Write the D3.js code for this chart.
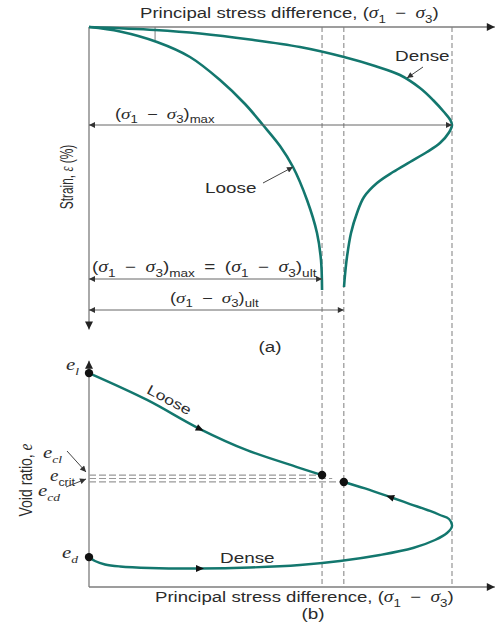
<!DOCTYPE html>
<html><head><meta charset="utf-8">
<script src="https://cdn.jsdelivr.net/npm/d3@7"></script>
<style>body{margin:0;background:#fff}svg{display:block}</style>
</head><body>
<script>
// (a) Strain vs principal stress difference, (b) void ratio vs principal stress difference
// Stress difference in % of the dense peak; strain in %.
const looseStressStrain = [[0,0],[8.54,0.18],[18.73,0.6],[27.82,1.2],[36.09,2.12],[42.98,3.08],[47.93,3.92],[52.62,4.76],[56.2,5.6],[60.06,6.92],[62.81,8.24],[63.91,9.32],[64.2,10.52]];
const denseStressStrain = [[0,0],[18.18,0.12],[30.58,0.26],[44.35,0.5],[58.13,0.8],[70.25,1.2],[78.79,1.56],[85.67,1.92],[91.18,2.44],[94.77,2.92],[97.8,3.4],[99.45,3.7],[100,3.92],[99.17,4.22],[96.69,4.64],[93.11,5.0],[88.43,5.4],[83.75,5.8],[79.34,6.24],[75.76,6.8],[73.83,7.44],[72.18,8.24],[71.07,9.2],[70.52,9.92],[70.25,10.4]];
const looseVoid = [[0,0.958],[16,0.888],[30.6,0.812],[43.5,0.757],[57.3,0.713],[64.2,0.692]];
const denseVoid = [[0,0.4783],[1.65,0.4678],[4.41,0.4587],[8.54,0.4535],[16.8,0.4496],[30.58,0.4483],[44.35,0.4509],[58.13,0.4574],[69.15,0.4678],[80.17,0.4835],[89.26,0.5017],[95.32,0.5226],[98.62,0.5409],[100,0.5591],[99.17,0.5774],[96.69,0.5878],[93.94,0.5983],[88.43,0.6165],[82.92,0.6348],[76.03,0.657],[70.25,0.6739]];
// characteristic values
const stressMaxDense = 100, stressUltLoose = 64.2, stressUltDense = 70.2, strainAtMax = 3.92;
const voidLabels = { eL: 0.958, eCl: 0.692, eCrit: 0.683, eCd: 0.674, eD: 0.478 };

const W = 497, H = 629;
const svg = d3.select("body").append("svg").attr("width", W).attr("height", H);
const x = d3.scaleLinear().domain([0, 100]).range([89, 452]);
const xEnd = 111.8;
const yS = d3.scaleLinear().domain([0, 12]).range([27, 327]);
const yE = d3.scaleLinear().domain([0.4, 1.0]).range([587, 357]);

const TEAL = "#13776e", AX = "#7c7c7c", TXT = "#2b2b2b", SX = 1.26;
const SANS = "'Liberation Sans', Arial, sans-serif", SERIF = "'Liberation Serif', 'Times New Roman', serif";
const SP = "\u2002";

const defs = svg.append("defs");
function mk(id, w, h, color) {
  defs.append("marker").attr("id", id).attr("viewBox", "0 0 10 10").attr("refX", 10).attr("refY", 5)
    .attr("markerUnits", "userSpaceOnUse").attr("markerWidth", w).attr("markerHeight", h)
    .attr("orient", "auto-start-reverse")
    .append("path").attr("d", "M0,0L10,5L0,10z").attr("fill", color);
}
mk("axHead", 9, 8, "#222");
mk("dimHead", 9, 6, "#333");

function line(x1, y1, x2, y2) {
  return svg.append("line").attr("x1", x1).attr("y1", y1).attr("x2", x2).attr("y2", y2);
}

// rich text: parts are strings or [text, kind] with kind n | g (greek italic) | i | sub | subi
function rich(px, py, parts, o = {}) {
  const size = o.size || 15;
  const sx = o.sx != null ? o.sx : SX, sy = o.sy || 1;
  const t = svg.append("text")
    .attr("transform", `translate(${px},${py}) rotate(${o.rotate || 0}) scale(${sx},${sy})`)
    .attr("text-anchor", o.anchor || "start").attr("font-size", size)
    .attr("fill", TXT).attr("font-family", SANS);
  let shift = 0;
  parts.forEach(p => {
    const [s, kind] = typeof p === "string" ? [p, "n"] : p;
    const ts = t.append("tspan").text(s);
    const target = kind.startsWith("sub") ? size * 0.3 : 0;
    if (target !== shift) { ts.attr("dy", target - shift); shift = target; }
    if (kind === "g" || kind === "i" || kind === "subi") ts.attr("font-family", SERIF).attr("font-style", "italic");
    if (kind === "g") ts.attr("font-size", size * 1.05);
    if (kind === "i") ts.attr("font-size", size * 1.1);
    if (kind.startsWith("sub")) ts.attr("font-size", size * 0.72);
  });
  return t;
}
const sig = ["(", ["σ", "g"], ["1", "sub"], SP + "−" + SP, ["σ", "g"], ["3", "sub"], ")"];

// dashed guide lines at the characteristic stresses
[stressUltLoose, stressUltDense, stressMaxDense].forEach(s =>
  line(x(s), yS(0), x(s), yE(0.4)).attr("stroke", "#8a8a8a").attr("stroke-width", 1.1).attr("stroke-dasharray", "5,3"));

// ---------- (a) ----------
line(x(0), yS(0), x(xEnd), yS(0)).attr("stroke", AX).attr("stroke-width", 1.3).attr("marker-end", "url(#axHead)");
line(x(0), yS(0), x(0), yS(12.1)).attr("stroke", AX).attr("stroke-width", 1.3).attr("marker-end", "url(#axHead)");
line(x(18.2), yS(0), x(18.2), yS(0.52)).attr("stroke", AX).attr("stroke-width", 1);

const lineA = d3.line().x(d => x(d[0])).y(d => yS(d[1])).curve(d3.curveCatmullRom.alpha(0.5));
[looseStressStrain, denseStressStrain].forEach(d =>
  svg.append("path").attr("d", lineA(d)).attr("fill", "none").attr("stroke", TEAL).attr("stroke-width", 2.6));

// dimension lines
function dim(s, yy) {
  line(x(0), yy, x(s), yy).attr("stroke", "#666").attr("stroke-width", 1)
    .attr("marker-start", "url(#dimHead)").attr("marker-end", "url(#dimHead)");
}
dim(stressMaxDense, yS(strainAtMax));
dim(stressUltLoose, 279);
dim(stressUltDense, 310);

rich(140, 18, ["Principal stress difference, ", ...sig], { sx: 1.24 });
rich(115, 119, [...sig, ["max", "sub"]], { size: 14.5 });
rich(92, 272, [...sig, ["max", "sub"], SP + "=" + SP, ...sig, ["ult", "sub"]], { size: 15 });
rich(170, 303, [...sig, ["ult", "sub"]], { size: 14.5 });
rich(270, 352, ["(a)"], { anchor: "middle" });
rich(73, 177, ["Strain, ", ["ε", "g"], " (%)"], { rotate: -90, anchor: "middle", size: 14.5, sx: 0.82, sy: 1.22 });

rich(395, 61, ["Dense"]);
line(423, 67, x(87.6), yS(2.04)).attr("stroke", "#444").attr("stroke-width", 1).attr("marker-end", "url(#dimHead)");
rich(205, 193, ["Loose"]);
line(263, 183, x(56.2), yS(5.6)).attr("stroke", "#444").attr("stroke-width", 1).attr("marker-end", "url(#dimHead)");

// ---------- (b) ----------
line(x(0), yE(0.4), x(xEnd), yE(0.4)).attr("stroke", AX).attr("stroke-width", 1.3).attr("marker-end", "url(#axHead)");
line(x(0), yE(0.4), x(0), yE(0.99)).attr("stroke", AX).attr("stroke-width", 1.3).attr("marker-end", "url(#axHead)");

[[voidLabels.eCl, stressUltLoose], [voidLabels.eCrit, 67], [voidLabels.eCd, stressUltDense]].forEach(([e, s]) =>
  line(x(0), yE(e), x(s), yE(e)).attr("stroke", "#999").attr("stroke-width", 1.2).attr("stroke-dasharray", "7,3"));

const lineB = d3.line().x(d => x(d[0])).y(d => yE(d[1])).curve(d3.curveCatmullRom.alpha(0.5));
[looseVoid, denseVoid].forEach(d =>
  svg.append("path").attr("d", lineB(d)).attr("fill", "none").attr("stroke", TEAL).attr("stroke-width", 2.4));

// direction arrows along the paths
function flow(data, i) {
  const a = data[i - 1], b = data[i + 1], p = data[i];
  const ang = Math.atan2(yE(b[1]) - yE(a[1]), x(b[0]) - x(a[0])) * 180 / Math.PI;
  svg.append("path").attr("d", "M4,0L-4,-3.5L-4,3.5z").attr("fill", "#111")
    .attr("transform", `translate(${x(p[0])},${yE(p[1])}) rotate(${ang})`);
}
flow(looseVoid, 2);
flow(denseVoid, 5);
flow(denseVoid, 18);

// state points
[[0, voidLabels.eL], [stressUltLoose, voidLabels.eCl], [stressUltDense, voidLabels.eCd], [0, voidLabels.eD]].forEach(([s, e]) =>
  svg.append("circle").attr("cx", x(s)).attr("cy", yE(e)).attr("r", 4.2).attr("fill", "#111"));

rich(66, 370, [["e", "i"], ["l", "subi"]]);
rich(43, 458, [["e", "i"], ["cl", "subi"]]);
rich(50, 481, [["e", "i"], ["crit", "sub"]], { sx: 1.15 });
rich(38, 496, [["e", "i"], ["cd", "subi"]]);
rich(62, 558, [["e", "i"], ["d", "subi"]]);
line(67, 451, 86, 472).attr("stroke", "#444").attr("stroke-width", 1).attr("marker-end", "url(#dimHead)");
line(66, 487, 86, 479).attr("stroke", "#444").attr("stroke-width", 1).attr("marker-end", "url(#dimHead)");

rich(32, 480, ["Void ratio, ", ["e", "i"]], { rotate: -90, anchor: "middle", size: 14, sx: 1, sy: SX });
rich(167, 404, ["Loose"], { rotate: 28, anchor: "middle", size: 14 });
rich(220, 563, ["Dense"]);
rich(155, 602, ["Principal stress difference, ", ...sig], { sx: 1.24 });
rich(313, 619, ["(b)"], { anchor: "middle" });
</script>
</body></html>
